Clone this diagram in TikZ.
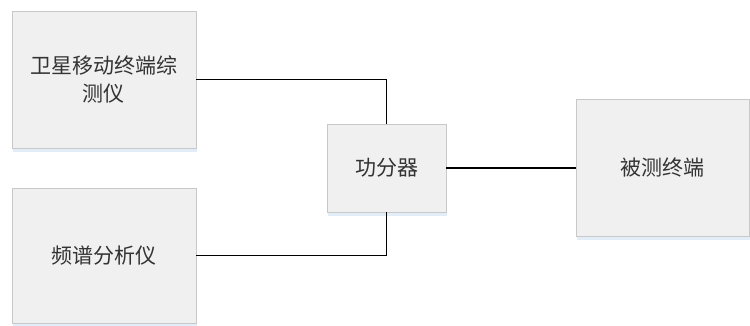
\documentclass[tikz,border=0pt]{standalone}
\usepackage{fontspec}
\newfontfamily\cjk{Noto Sans CJK SC}
\definecolor{boxfill}{HTML}{F0F0F0}
\definecolor{boxdraw}{HTML}{C8C8C8}
\definecolor{shadowc}{HTML}{E3EDF8}
\definecolor{txt}{HTML}{333333}
\tikzset{
  unitbox/.style={draw=boxdraw, line width=0.9pt, fill=boxfill, inner sep=0pt,
    text=txt, font=\cjk\fontsize{21pt}{28pt}\selectfont, align=center},
  link/.style={line width=1.7pt, draw=black}
}
\begin{document}
\begin{tikzpicture}[x=1pt,y=-1pt]
\useasboundingbox (0,0) rectangle (750,325);
% shadows
\foreach \a/\b/\c/\d in {12/11/196/148, 12/188/196/323, 327/124/446/212, 576/99/749/236}{
  \fill[shadowc] (\a+1,\b+3) rectangle (\c+1,\d+4);
}
\node[unitbox, minimum width=184pt, minimum height=137pt] (a) at (104,79.5) {卫星移动终端综\\测仪};
\node[unitbox, minimum width=184pt, minimum height=135pt] (b) at (104,255.5) {频谱分析仪};
\node[unitbox, minimum width=119pt, minimum height=88pt] (c) at (386.5,168) {功分器};
\node[unitbox, minimum width=173pt, minimum height=137pt] (d) at (662.5,167.5) {被测终端};
\draw[link] (a.east) -| (c.north);
\draw[link] (b.east) -| (c.south);
\draw[link] (c.east) -- (c.east -| d.west);
\end{tikzpicture}
\end{document}
